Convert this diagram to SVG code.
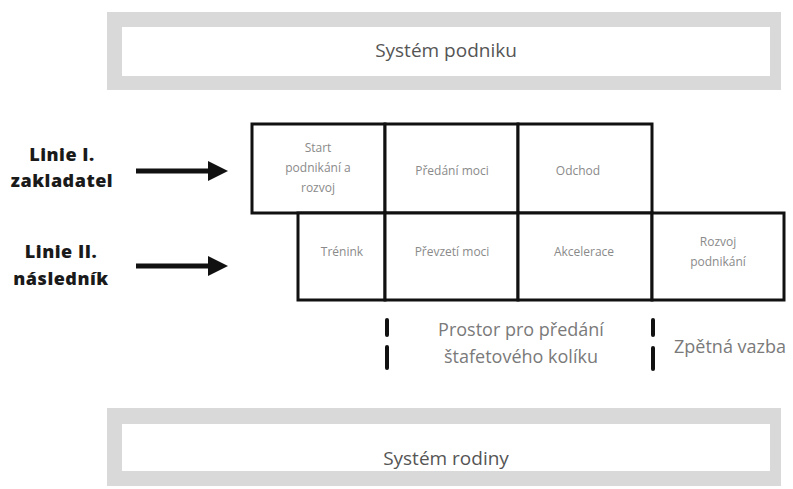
<svg xmlns="http://www.w3.org/2000/svg" width="793" height="489" viewBox="0 0 793 489">
<style>
.band{fill:#d9d9d9}
.inner{fill:#ffffff}
.big{font-family:"Open Sans","Liberation Sans",sans-serif;font-size:19px;fill:#555;text-anchor:middle}
.cell{fill:#fff;stroke:#111;stroke-width:3}
.ct{font-family:"Open Sans","Liberation Sans",sans-serif;font-size:12px;fill:#8a8a8a;text-anchor:middle}
.lbl{font-family:"Open Sans","Liberation Sans",sans-serif;font-weight:800;font-size:18px;letter-spacing:0.5px;fill:#1a1a1a;text-anchor:middle}
.note{font-family:"Open Sans","Liberation Sans",sans-serif;font-size:18px;fill:#7a7a7a;text-anchor:middle}
.dash{stroke:#111;stroke-width:4;stroke-linecap:round}
.arr{stroke:#111;stroke-width:5}
</style>
<defs>
<marker id="ah" markerWidth="4" markerHeight="4" refX="0" refY="2" orient="auto" markerUnits="strokeWidth">
<path d="M0,0 L4,2 L0,4 Z" fill="#111"/>
</marker>
</defs>
<g id="system-podniku">
<rect class="band" x="107" y="12" width="674" height="78"/>
<rect class="inner" x="122" y="27" width="648" height="49"/>
<text class="big" x="446" y="57">Systém podniku</text>
</g>
<g id="system-rodiny">
<rect class="band" x="107" y="408" width="674" height="78"/>
<rect class="inner" x="122" y="424" width="648" height="47"/>
<text class="big" x="446" y="465">Systém rodiny</text>
</g>
<g id="linie1">
<text class="lbl" x="62" y="161">Linie I.</text>
<text class="lbl" x="62" y="187">zakladatel</text>
</g>
<g id="linie2">
<text class="lbl" x="61" y="258">Linie II.</text>
<text class="lbl" x="61" y="285">následník</text>
</g>
<g id="row1">
<g id="start"><rect class="cell" x="252" y="124" width="133" height="89"/>
<text class="ct" x="318" y="152">Start</text><text class="ct" x="318" y="172">podnikání a</text><text class="ct" x="318" y="192">rozvoj</text></g>
<g id="predani"><rect class="cell" x="385" y="124" width="133" height="89"/>
<text class="ct" x="452" y="175">Předání moci</text></g>
<g id="odchod"><rect class="cell" x="518" y="124" width="134" height="89"/>
<text class="ct" x="578" y="175">Odchod</text></g>
</g>
<g id="row2">
<g id="trenink"><rect class="cell" x="298" y="213" width="87" height="87"/>
<text class="ct" x="342" y="256">Trénink</text></g>
<g id="prevzeti"><rect class="cell" x="385" y="213" width="133" height="87"/>
<text class="ct" x="452" y="256">Převzetí moci</text></g>
<g id="akcelerace"><rect class="cell" x="518" y="213" width="134" height="87"/>
<text class="ct" x="584" y="256">Akcelerace</text></g>
<g id="rozvoj"><rect class="cell" x="652" y="213" width="132" height="87"/>
<text class="ct" x="718" y="246">Rozvoj</text><text class="ct" x="718" y="266">podnikání</text></g>
</g>
<g id="connectors">
<line class="arr" x1="136" y1="171" x2="208" y2="171" marker-end="url(#ah)"/>
<line class="arr" x1="136" y1="266" x2="208" y2="266" marker-end="url(#ah)"/>
</g>
<g id="marks">
<line class="dash" x1="387" y1="320" x2="387" y2="335"/>
<line class="dash" x1="387" y1="347" x2="387" y2="368"/>
<line class="dash" x1="653" y1="320" x2="653" y2="335"/>
<line class="dash" x1="653" y1="348" x2="653" y2="369"/>
<text class="note" x="521" y="336">Prostor pro předání</text>
<text class="note" x="521" y="363">štafetového kolíku</text>
<text class="note" x="730" y="353">Zpětná vazba</text>
</g>
</svg>
